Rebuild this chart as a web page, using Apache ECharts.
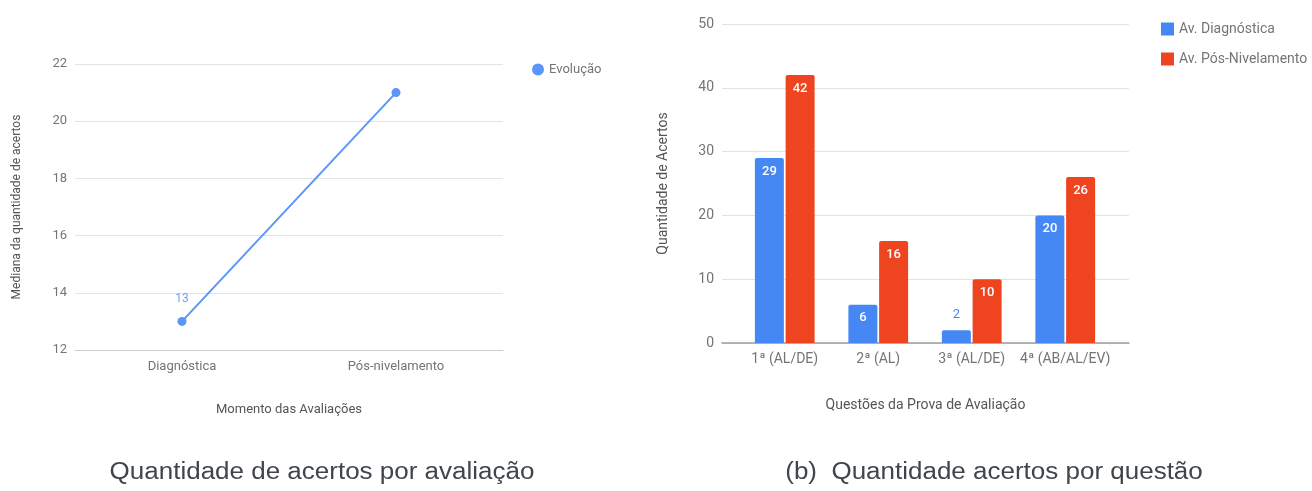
<!DOCTYPE html>
<html>
<head>
<meta charset="utf-8">
<script src="https://cdn.jsdelivr.net/npm/echarts@6/dist/echarts.min.js"></script>
<style>
  html, body { margin: 0; padding: 0; background: #ffffff; }
  #chart { width: 1312px; height: 491px; }
</style>
</head>
<body>
<div id="chart"></div>
<script>
// Left panel: median number of correct answers per assessment moment
const momentCategories = ['Diagnóstica', 'Pós-nivelamento'];
const medianValues = [13, 21];
const medianLabelled = [true, false];

// Right panel: correct answers per question, before and after levelling
const questionCategories = ['1ª (AL/DE)', '2ª (AL)', '3ª (AL/DE)', '4ª (AB/AL/EV)'];
const diagnosticValues = [29, 6, 2, 20];
const postLevelValues = [42, 16, 10, 26];

// Panel captions
const captionLeft = 'Quantidade de acertos por avaliação';
const captionRight = '(b)  Quantidade acertos por questão';

const FONT = 'Roboto, "Noto Sans", sans-serif';
const TICK = '#757575';
const TITLE = '#555555';
const GRID_LINE = '#e3e3e3';
const BLUE_LINE = '#5a96f7';
const BLUE = '#4688f3';
const RED = '#ee4520';
const FS_LEFT = 13;   // text size in the line panel
const FS_RIGHT = 14;  // text size in the bar panel

const chart = echarts.init(document.getElementById('chart'), null, { renderer: 'canvas' });

const lineData = medianValues.map((v, i) => ({
  value: v,
  label: { show: medianLabelled[i] }
}));

const smallBarLimit = 4; // bars shorter than this get their label above the bar
function barData(values, colour) {
  return values.map(v => v < smallBarLimit
    ? { value: v, label: { position: 'top', distance: 9, color: colour, fontWeight: 'normal' } }
    : { value: v });
}

// Caption text, slightly widened to the document's caption face
function caption(text, cx) {
  return {
    type: 'text', x: cx, y: 473, scaleX: 1.13, scaleY: 1,
    style: {
      text: text, x: 0, y: 0,
      fill: '#40454c', font: '23px "Liberation Sans", Arial, sans-serif',
      align: 'center', verticalAlign: 'middle'
    }
  };
}

chart.setOption({
  animation: false,
  textStyle: { fontFamily: FONT },
  legend: [
    {
      left: 527, top: 58,
      data: ['Evolução'],
      icon: 'circle', itemWidth: 12, itemHeight: 12, itemGap: 10,
      textStyle: { color: TICK, fontSize: FS_LEFT, fontFamily: FONT }
    },
    {
      left: 1156, top: 17, orient: 'vertical',
      data: ['Av. Diagnóstica', 'Av. Pós-Nivelamento'],
      icon: 'rect', itemWidth: 13, itemHeight: 13, itemGap: 16,
      textStyle: { color: TICK, fontSize: FS_RIGHT, fontFamily: FONT }
    }
  ],
  grid: [
    { left: 75, right: 809, top: 64, bottom: 141 },   // line chart
    { left: 722, right: 183, top: 24, bottom: 148 },  // bar chart background lines
    { left: 738, right: 200, top: 24, bottom: 148 }   // bar chart bands
  ],
  xAxis: [
    {
      gridIndex: 0, type: 'category', data: momentCategories, boundaryGap: true,
      name: 'Momento das Avaliações', nameLocation: 'middle', nameGap: 53,
      nameTextStyle: { color: TITLE, fontSize: FS_LEFT },
      axisLine: { show: true, lineStyle: { color: '#cfcfcf' } },
      axisTick: { show: false },
      axisLabel: { color: TICK, fontSize: FS_LEFT, margin: 10, interval: 0 }
    },
    {
      gridIndex: 1, type: 'value', min: 0, max: 1,
      name: 'Questões da Prova de Avaliação', nameLocation: 'middle', nameGap: 55,
      nameTextStyle: { color: TITLE, fontSize: FS_RIGHT },
      axisLine: { show: true, lineStyle: { color: '#9e9e9e', width: 1.5 } },
      axisTick: { show: false }, axisLabel: { show: false }, splitLine: { show: false }
    },
    {
      gridIndex: 2, type: 'category', data: questionCategories, boundaryGap: true,
      axisLine: { show: false }, axisTick: { show: false },
      axisLabel: { color: TICK, fontSize: FS_RIGHT, margin: 9, interval: 0, hideOverlap: false }
    }
  ],
  yAxis: [
    {
      gridIndex: 0, type: 'value', min: 12, max: 22, interval: 2,
      name: 'Mediana da quantidade de acertos', nameLocation: 'middle', nameGap: 52,
      nameTextStyle: { color: TITLE, fontSize: 12 },
      axisLine: { show: false }, axisTick: { show: false },
      axisLabel: { color: TICK, fontSize: FS_LEFT, margin: 8 },
      splitLine: { lineStyle: { color: GRID_LINE } }
    },
    {
      gridIndex: 1, type: 'value', min: 0, max: 50, interval: 10,
      name: 'Quantidade de Acertos', nameLocation: 'middle', nameGap: 52,
      nameTextStyle: { color: TITLE, fontSize: FS_RIGHT },
      axisLine: { show: false }, axisTick: { show: false },
      axisLabel: { color: TICK, fontSize: FS_RIGHT, margin: 8 },
      splitLine: { lineStyle: { color: GRID_LINE } }
    },
    {
      gridIndex: 2, type: 'value', min: 0, max: 50, interval: 10, show: false
    }
  ],
  series: [
    {
      name: 'Evolução', type: 'line', xAxisIndex: 0, yAxisIndex: 0,
      data: lineData,
      color: BLUE_LINE,
      lineStyle: { width: 2, color: BLUE_LINE },
      symbol: 'circle', symbolSize: 9,
      itemStyle: { color: BLUE_LINE },
      label: { position: 'top', distance: 12, color: '#6fa3f7', fontSize: 12 }
    },
    {
      name: 'Av. Diagnóstica', type: 'bar', xAxisIndex: 2, yAxisIndex: 2,
      data: barData(diagnosticValues, BLUE),
      color: BLUE,
      itemStyle: { color: BLUE, borderRadius: [2, 2, 0, 0] },
      barWidth: 29, barGap: '6%',
      label: { show: true, position: 'insideTop', distance: 7, color: '#ffffff', fontSize: 13, fontWeight: 500 }
    },
    {
      name: 'Av. Pós-Nivelamento', type: 'bar', xAxisIndex: 2, yAxisIndex: 2,
      data: barData(postLevelValues, RED),
      color: RED,
      itemStyle: { color: RED, borderRadius: [2, 2, 0, 0] },
      barWidth: 29, barGap: '6%',
      label: { show: true, position: 'insideTop', distance: 7, color: '#ffffff', fontSize: 13, fontWeight: 500 }
    }
  ],
  graphic: [
    caption(captionLeft, 322),
    caption(captionRight, 994)
  ]
});
</script>
</body>
</html>
